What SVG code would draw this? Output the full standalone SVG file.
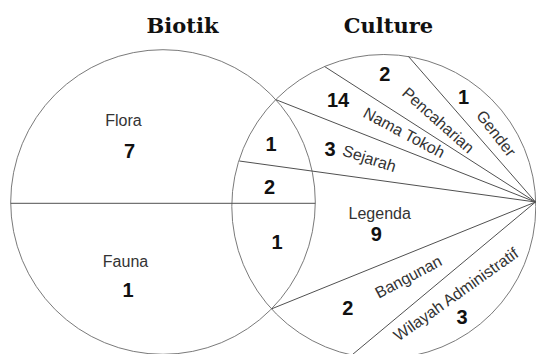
<svg xmlns="http://www.w3.org/2000/svg" width="536" height="354" viewBox="0 0 536 354">
<style>
.circ{fill:none;stroke:#7a7a7a;stroke-width:1}
.ln{fill:none;stroke:#505050;stroke-width:1}
.title{font-family:"DejaVu Serif","Liberation Serif",serif;font-weight:bold;font-size:21px;fill:#111;text-anchor:middle}
.lbl{font-family:"Liberation Sans",Arial,sans-serif;font-size:16px;fill:#333;text-anchor:middle}
.num{font-family:"Liberation Sans",Arial,sans-serif;font-size:20px;font-weight:bold;fill:#111;text-anchor:middle}
</style>
<rect width="536" height="354" fill="#fff"/>
<g id="titles">
<text class="title" x="182.5" y="33">Biotik</text>
<text class="title" x="388.5" y="33">Culture</text>
</g>
<g id="biotik">
<circle class="circ" cx="163" cy="202" r="152.3"/>
</g>
<g id="culture">
<circle class="circ" cx="383.8" cy="206.5" r="152"/>
</g>
<g id="connectors">
<line class="ln" x1="10.7" y1="203.3" x2="315.3" y2="203.3"/>
<line class="ln" x1="275.7" y1="99.6" x2="535.5" y2="202"/>
<line class="ln" x1="324.7" y1="66.6" x2="535.5" y2="202"/>
<line class="ln" x1="408.5" y1="56.5" x2="535.5" y2="202"/>
<line class="ln" x1="239.3" y1="161" x2="535.5" y2="202"/>
<line class="ln" x1="271.5" y1="308.9" x2="535.5" y2="202"/>
<line class="ln" x1="352.5" y1="354.5" x2="535.5" y2="202"/>
</g>
<g id="flora">
<text class="lbl" x="123.4" y="126">Flora</text>
<text class="num" x="129.5" y="158.3">7</text>
</g>
<g id="fauna">
<text class="lbl" x="125.5" y="266.7">Fauna</text>
<text class="num" x="128" y="297.3">1</text>
</g>
<g id="overlap">
<text class="num" x="271" y="150.7">1</text>
<text class="num" x="269.5" y="194.3">2</text>
<text class="num" x="277" y="249">1</text>
</g>
<g id="sejarah">
<text class="num" x="330" y="155.5">3</text>
<text class="lbl" transform="translate(369.5,158.3) rotate(17.7)" x="0" y="5.7">Sejarah</text>
</g>
<g id="nama-tokoh">
<text class="num" x="338" y="106.7">14</text>
<text class="lbl" transform="translate(404.2,132.5) rotate(28)" x="0" y="5.7">Nama Tokoh</text>
</g>
<g id="pencaharian">
<text class="num" x="384.8" y="81">2</text>
<text class="lbl" transform="translate(438.3,120) rotate(41.6)" x="0" y="5.7">Pencaharian</text>
</g>
<g id="gender">
<text class="num" x="463.5" y="103.7">1</text>
<text class="lbl" transform="translate(496.3,133.3) rotate(52)" x="0" y="5.7">Gender</text>
</g>
<g id="legenda">
<text class="lbl" x="379.7" y="219.3">Legenda</text>
<text class="num" x="376.3" y="240.7">9</text>
</g>
<g id="bangunan">
<text class="num" x="347.7" y="315">2</text>
<text class="lbl" transform="translate(408.3,276.7) rotate(-28)" x="0" y="5.7">Bangunan</text>
</g>
<g id="wilayah">
<text class="num" x="462" y="324">3</text>
<text class="lbl" transform="translate(455.8,294.2) rotate(-35.4)" x="0" y="5.7">Wilayah Administratif</text>
</g>
</svg>
